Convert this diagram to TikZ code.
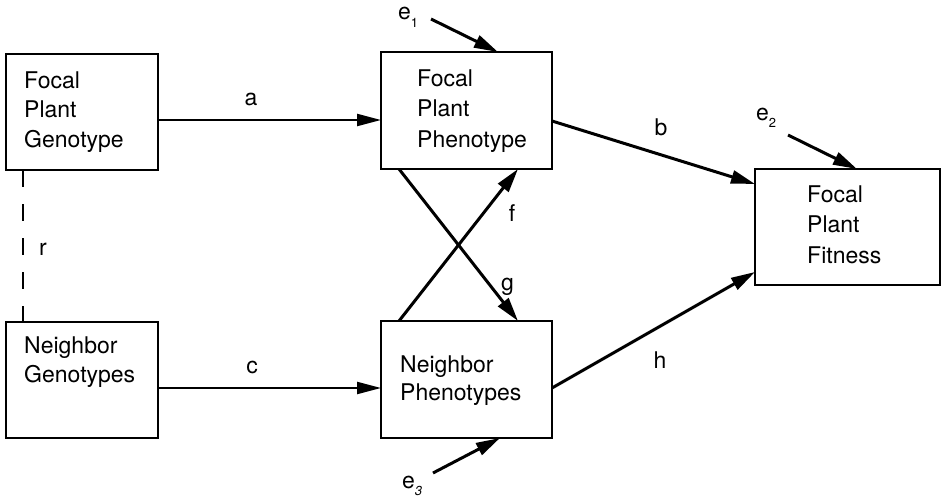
\documentclass[tikz,border=0pt]{standalone}
\usepackage{fontspec}
\setmainfont{TeX Gyre Heros}
\usetikzlibrary{arrows.meta}
\begin{document}
\begin{tikzpicture}[x=1pt,y=-1pt,
 box/.style={draw, line width=2.2pt, inner sep=0pt, outer sep=0pt},
 txt/.style={anchor=north west, align=left, inner sep=0pt, font=\fontsize{23}{29.5}\selectfont},
 lbl/.style={anchor=base, inner sep=0pt, font=\fontsize{23}{27}\selectfont},
 arr/.style={line width=3pt, -{Triangle[length=24pt,width=13pt]}},
 harr/.style={line width=2.2pt, -{Triangle[length=24pt,width=12pt]}},
 rline/.style={line width=2.2pt, dash pattern=on 17pt off 17pt}
]
\useasboundingbox (0,0) rectangle (942,503);
% boxes
\node[box, minimum width=152pt, minimum height=116pt] (fg) at (82,112) {};
\node[box, minimum width=171pt, minimum height=117pt] (fp) at (466.5,110.5) {};
\node[box, minimum width=185pt, minimum height=116pt] (ff) at (847.5,227) {};
\node[box, minimum width=171pt, minimum height=117pt] (np) at (466.5,379.5) {};
\node[box, minimum width=152pt, minimum height=116pt] (ng) at (82,380) {};
% box texts
\node[txt] (tfg) at (24,71.5) {Focal\\Plant\\Genotype};
\node[txt, font=\fontsize{23}{30.5}\selectfont] (tfp) at (417,69.5) {Focal\\Plant\\Phenotype};
\node[txt, font=\fontsize{23}{30.5}\selectfont] (tff) at (807,185.5) {Focal\\Plant\\Fitness};
\node[txt, font=\fontsize{23}{28.5}\selectfont] (tnp) at (400,355.5) {Neighbor\\Phenotypes};
\node[txt, font=\fontsize{23}{29}\selectfont] (tng) at (24,336.5) {Neighbor\\Genotypes};
% helper coordinates
\coordinate (ay) at (0,120);
\coordinate (cy) at (0,388);
\coordinate (e1s) at (431,19);
\coordinate (e2s) at (788,135);
\coordinate (e3s) at (433,473);
% connectors
\draw[harr] (fg.east |- ay) -- (fp.west |- ay);
\draw[harr] (ng.east |- cy) -- (np.west |- cy);
\draw[arr] ([yshift=-10.5pt]fp.east) -- ([yshift=43pt]ff.west);
\draw[arr] ([yshift=-8.5pt]np.east) -- ([yshift=-45pt]ff.west);
\draw[arr] ([xshift=-67.5pt]np.north) -- ([xshift=51.5pt]fp.south);
\draw[arr] ([xshift=-67.5pt]fp.south) -- ([xshift=51.5pt]np.north);
\draw[arr] (e1s) -- ([xshift=31.5pt]fp.north);
\draw[arr] (e2s) -- ([xshift=9.5pt]ff.north);
\draw[arr] (e3s) -- ([xshift=33.5pt]np.south);
\draw[rline] ([xshift=-59pt]fg.south) -- ([xshift=-59pt]ng.north);
% labels
\node[lbl] (la) at (251,105) {a};
\node[lbl] (lb) at (661,135) {b};
\node[lbl] (lc) at (252,373) {c};
\node[lbl] (lh) at (660,368) {h};
\node[lbl] (lf) at (512,221) {f};
\node[lbl] (lg) at (507.5,290) {g};
\node[lbl] (lr) at (43,255) {r};
\node[lbl, anchor=base west] (le1) at (398,20) {e\raisebox{-8pt}{\fontsize{13}{13}\selectfont 1}};
\node[lbl, anchor=base west] (le2) at (756,120) {e\raisebox{-7pt}{\fontsize{13}{13}\selectfont 2}};
\node[lbl, anchor=base west] (le3) at (402,488) {e\raisebox{-7pt}{\fontsize{13}{13}\selectfont\itshape 3}};
\end{tikzpicture}
\end{document}
